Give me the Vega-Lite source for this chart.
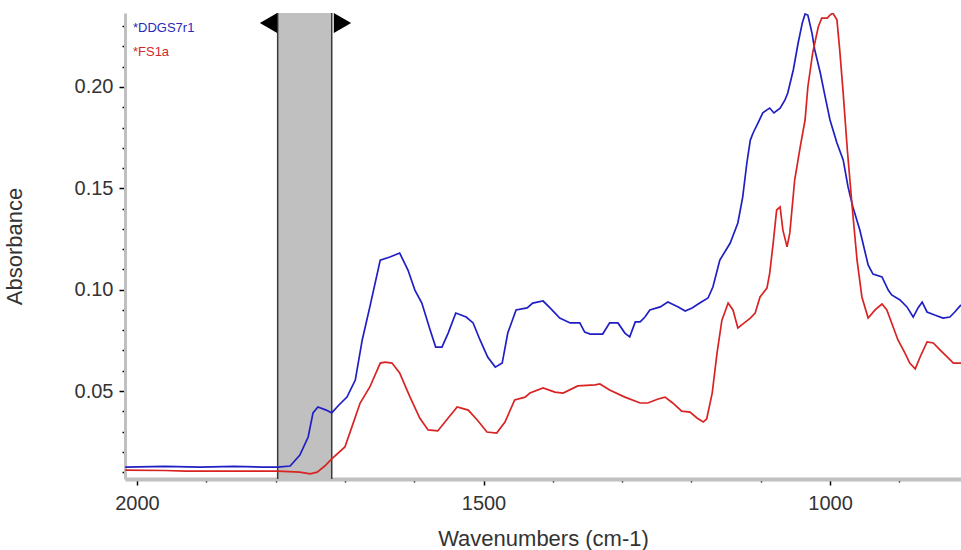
{
  "$schema": "https://vega.github.io/schema/vega-lite/v6.json",
  "width": 836,
  "height": 466,
  "autosize": {"type": "none"},
  "padding": {"left": 125, "top": 13, "right": 0, "bottom": 71},
  "background": "white",
  "config": {"view": {"stroke": null}, "font": "Liberation Sans", "axis": {"labelOverlap": false, "grid": false}},
  "datasets": {
    "region": [{"start": 1797, "end": 1719}],
    "spectra": [
      {"sample": "DDGS7r1", "wavenumber": 2017, "absorbance": 0.0125},
      {"sample": "DDGS7r1", "wavenumber": 1960, "absorbance": 0.0128},
      {"sample": "DDGS7r1", "wavenumber": 1909, "absorbance": 0.0125},
      {"sample": "DDGS7r1", "wavenumber": 1860, "absorbance": 0.0128},
      {"sample": "DDGS7r1", "wavenumber": 1820, "absorbance": 0.0125},
      {"sample": "DDGS7r1", "wavenumber": 1797, "absorbance": 0.0125},
      {"sample": "DDGS7r1", "wavenumber": 1779, "absorbance": 0.0130},
      {"sample": "DDGS7r1", "wavenumber": 1765, "absorbance": 0.0184},
      {"sample": "DDGS7r1", "wavenumber": 1753, "absorbance": 0.0273},
      {"sample": "DDGS7r1", "wavenumber": 1746, "absorbance": 0.0392},
      {"sample": "DDGS7r1", "wavenumber": 1739, "absorbance": 0.0421},
      {"sample": "DDGS7r1", "wavenumber": 1727, "absorbance": 0.0406},
      {"sample": "DDGS7r1", "wavenumber": 1719, "absorbance": 0.0392},
      {"sample": "DDGS7r1", "wavenumber": 1709, "absorbance": 0.0430},
      {"sample": "DDGS7r1", "wavenumber": 1697, "absorbance": 0.0470},
      {"sample": "DDGS7r1", "wavenumber": 1685, "absorbance": 0.0554},
      {"sample": "DDGS7r1", "wavenumber": 1675, "absorbance": 0.0752},
      {"sample": "DDGS7r1", "wavenumber": 1664, "absorbance": 0.0915},
      {"sample": "DDGS7r1", "wavenumber": 1649, "absorbance": 0.1146},
      {"sample": "DDGS7r1", "wavenumber": 1635, "absorbance": 0.1161},
      {"sample": "DDGS7r1", "wavenumber": 1621, "absorbance": 0.1181},
      {"sample": "DDGS7r1", "wavenumber": 1609, "absorbance": 0.1097},
      {"sample": "DDGS7r1", "wavenumber": 1599, "absorbance": 0.0998},
      {"sample": "DDGS7r1", "wavenumber": 1589, "absorbance": 0.0934},
      {"sample": "DDGS7r1", "wavenumber": 1577, "absorbance": 0.0801},
      {"sample": "DDGS7r1", "wavenumber": 1569, "absorbance": 0.0717},
      {"sample": "DDGS7r1", "wavenumber": 1560, "absorbance": 0.0717},
      {"sample": "DDGS7r1", "wavenumber": 1551, "absorbance": 0.0786},
      {"sample": "DDGS7r1", "wavenumber": 1540, "absorbance": 0.0885},
      {"sample": "DDGS7r1", "wavenumber": 1525, "absorbance": 0.0865},
      {"sample": "DDGS7r1", "wavenumber": 1515, "absorbance": 0.0836},
      {"sample": "DDGS7r1", "wavenumber": 1505, "absorbance": 0.0752},
      {"sample": "DDGS7r1", "wavenumber": 1494, "absorbance": 0.0668},
      {"sample": "DDGS7r1", "wavenumber": 1483, "absorbance": 0.0618},
      {"sample": "DDGS7r1", "wavenumber": 1473, "absorbance": 0.0638},
      {"sample": "DDGS7r1", "wavenumber": 1465, "absorbance": 0.0786},
      {"sample": "DDGS7r1", "wavenumber": 1453, "absorbance": 0.0900},
      {"sample": "DDGS7r1", "wavenumber": 1437, "absorbance": 0.0910},
      {"sample": "DDGS7r1", "wavenumber": 1429, "absorbance": 0.0934},
      {"sample": "DDGS7r1", "wavenumber": 1414, "absorbance": 0.0944},
      {"sample": "DDGS7r1", "wavenumber": 1404, "absorbance": 0.0910},
      {"sample": "DDGS7r1", "wavenumber": 1390, "absorbance": 0.0860},
      {"sample": "DDGS7r1", "wavenumber": 1375, "absorbance": 0.0836},
      {"sample": "DDGS7r1", "wavenumber": 1361, "absorbance": 0.0836},
      {"sample": "DDGS7r1", "wavenumber": 1354, "absorbance": 0.0791},
      {"sample": "DDGS7r1", "wavenumber": 1346, "absorbance": 0.0781},
      {"sample": "DDGS7r1", "wavenumber": 1328, "absorbance": 0.0781},
      {"sample": "DDGS7r1", "wavenumber": 1318, "absorbance": 0.0836},
      {"sample": "DDGS7r1", "wavenumber": 1306, "absorbance": 0.0836},
      {"sample": "DDGS7r1", "wavenumber": 1296, "absorbance": 0.0786},
      {"sample": "DDGS7r1", "wavenumber": 1289, "absorbance": 0.0767},
      {"sample": "DDGS7r1", "wavenumber": 1281, "absorbance": 0.0841},
      {"sample": "DDGS7r1", "wavenumber": 1274, "absorbance": 0.0841},
      {"sample": "DDGS7r1", "wavenumber": 1267, "absorbance": 0.0865},
      {"sample": "DDGS7r1", "wavenumber": 1260, "absorbance": 0.0900},
      {"sample": "DDGS7r1", "wavenumber": 1245, "absorbance": 0.0915},
      {"sample": "DDGS7r1", "wavenumber": 1234, "absorbance": 0.0939},
      {"sample": "DDGS7r1", "wavenumber": 1219, "absorbance": 0.0915},
      {"sample": "DDGS7r1", "wavenumber": 1209, "absorbance": 0.0895},
      {"sample": "DDGS7r1", "wavenumber": 1199, "absorbance": 0.0910},
      {"sample": "DDGS7r1", "wavenumber": 1188, "absorbance": 0.0934},
      {"sample": "DDGS7r1", "wavenumber": 1176, "absorbance": 0.0959},
      {"sample": "DDGS7r1", "wavenumber": 1169, "absorbance": 0.1013},
      {"sample": "DDGS7r1", "wavenumber": 1159, "absorbance": 0.1146},
      {"sample": "DDGS7r1", "wavenumber": 1144, "absorbance": 0.1230},
      {"sample": "DDGS7r1", "wavenumber": 1133, "absorbance": 0.1329},
      {"sample": "DDGS7r1", "wavenumber": 1126, "absorbance": 0.1457},
      {"sample": "DDGS7r1", "wavenumber": 1120, "absorbance": 0.1625},
      {"sample": "DDGS7r1", "wavenumber": 1115, "absorbance": 0.1738},
      {"sample": "DDGS7r1", "wavenumber": 1111, "absorbance": 0.1773},
      {"sample": "DDGS7r1", "wavenumber": 1104, "absorbance": 0.1822},
      {"sample": "DDGS7r1", "wavenumber": 1097, "absorbance": 0.1872},
      {"sample": "DDGS7r1", "wavenumber": 1091, "absorbance": 0.1887},
      {"sample": "DDGS7r1", "wavenumber": 1087, "absorbance": 0.1896},
      {"sample": "DDGS7r1", "wavenumber": 1081, "absorbance": 0.1872},
      {"sample": "DDGS7r1", "wavenumber": 1072, "absorbance": 0.1896},
      {"sample": "DDGS7r1", "wavenumber": 1065, "absorbance": 0.1936},
      {"sample": "DDGS7r1", "wavenumber": 1061, "absorbance": 0.1970},
      {"sample": "DDGS7r1", "wavenumber": 1053, "absorbance": 0.2084},
      {"sample": "DDGS7r1", "wavenumber": 1046, "absorbance": 0.2217},
      {"sample": "DDGS7r1", "wavenumber": 1040, "absorbance": 0.2316},
      {"sample": "DDGS7r1", "wavenumber": 1036, "absorbance": 0.2360},
      {"sample": "DDGS7r1", "wavenumber": 1032, "absorbance": 0.2355},
      {"sample": "DDGS7r1", "wavenumber": 1026, "absorbance": 0.2266},
      {"sample": "DDGS7r1", "wavenumber": 1022, "absorbance": 0.2183},
      {"sample": "DDGS7r1", "wavenumber": 1014, "absorbance": 0.2069},
      {"sample": "DDGS7r1", "wavenumber": 1007, "absorbance": 0.1951},
      {"sample": "DDGS7r1", "wavenumber": 1000, "absorbance": 0.1837},
      {"sample": "DDGS7r1", "wavenumber": 990, "absorbance": 0.1724},
      {"sample": "DDGS7r1", "wavenumber": 981, "absorbance": 0.1640},
      {"sample": "DDGS7r1", "wavenumber": 974, "absorbance": 0.1507},
      {"sample": "DDGS7r1", "wavenumber": 967, "absorbance": 0.1408},
      {"sample": "DDGS7r1", "wavenumber": 957, "absorbance": 0.1294},
      {"sample": "DDGS7r1", "wavenumber": 945, "absorbance": 0.1122},
      {"sample": "DDGS7r1", "wavenumber": 938, "absorbance": 0.1077},
      {"sample": "DDGS7r1", "wavenumber": 925, "absorbance": 0.1063},
      {"sample": "DDGS7r1", "wavenumber": 916, "absorbance": 0.0998},
      {"sample": "DDGS7r1", "wavenumber": 911, "absorbance": 0.0974},
      {"sample": "DDGS7r1", "wavenumber": 899, "absorbance": 0.0949},
      {"sample": "DDGS7r1", "wavenumber": 889, "absorbance": 0.0915},
      {"sample": "DDGS7r1", "wavenumber": 880, "absorbance": 0.0865},
      {"sample": "DDGS7r1", "wavenumber": 873, "absorbance": 0.0910},
      {"sample": "DDGS7r1", "wavenumber": 867, "absorbance": 0.0939},
      {"sample": "DDGS7r1", "wavenumber": 860, "absorbance": 0.0890},
      {"sample": "DDGS7r1", "wavenumber": 849, "absorbance": 0.0875},
      {"sample": "DDGS7r1", "wavenumber": 837, "absorbance": 0.0860},
      {"sample": "DDGS7r1", "wavenumber": 827, "absorbance": 0.0865},
      {"sample": "DDGS7r1", "wavenumber": 820, "absorbance": 0.0890},
      {"sample": "DDGS7r1", "wavenumber": 811, "absorbance": 0.0925},
      {"sample": "FS1a", "wavenumber": 2017, "absorbance": 0.0110},
      {"sample": "FS1a", "wavenumber": 1960, "absorbance": 0.0108},
      {"sample": "FS1a", "wavenumber": 1930, "absorbance": 0.0105},
      {"sample": "FS1a", "wavenumber": 1860, "absorbance": 0.0105},
      {"sample": "FS1a", "wavenumber": 1797, "absorbance": 0.0105},
      {"sample": "FS1a", "wavenumber": 1765, "absorbance": 0.0100},
      {"sample": "FS1a", "wavenumber": 1750, "absorbance": 0.0091},
      {"sample": "FS1a", "wavenumber": 1740, "absorbance": 0.0100},
      {"sample": "FS1a", "wavenumber": 1729, "absorbance": 0.0130},
      {"sample": "FS1a", "wavenumber": 1719, "absorbance": 0.0165},
      {"sample": "FS1a", "wavenumber": 1700, "absorbance": 0.0224},
      {"sample": "FS1a", "wavenumber": 1690, "absorbance": 0.0322},
      {"sample": "FS1a", "wavenumber": 1678, "absorbance": 0.0441},
      {"sample": "FS1a", "wavenumber": 1664, "absorbance": 0.0520},
      {"sample": "FS1a", "wavenumber": 1649, "absorbance": 0.0638},
      {"sample": "FS1a", "wavenumber": 1642, "absorbance": 0.0643},
      {"sample": "FS1a", "wavenumber": 1632, "absorbance": 0.0638},
      {"sample": "FS1a", "wavenumber": 1621, "absorbance": 0.0589},
      {"sample": "FS1a", "wavenumber": 1606, "absorbance": 0.0470},
      {"sample": "FS1a", "wavenumber": 1592, "absorbance": 0.0367},
      {"sample": "FS1a", "wavenumber": 1580, "absorbance": 0.0308},
      {"sample": "FS1a", "wavenumber": 1566, "absorbance": 0.0303},
      {"sample": "FS1a", "wavenumber": 1551, "absorbance": 0.0367},
      {"sample": "FS1a", "wavenumber": 1538, "absorbance": 0.0421},
      {"sample": "FS1a", "wavenumber": 1522, "absorbance": 0.0406},
      {"sample": "FS1a", "wavenumber": 1509, "absorbance": 0.0357},
      {"sample": "FS1a", "wavenumber": 1495, "absorbance": 0.0298},
      {"sample": "FS1a", "wavenumber": 1481, "absorbance": 0.0293},
      {"sample": "FS1a", "wavenumber": 1469, "absorbance": 0.0347},
      {"sample": "FS1a", "wavenumber": 1455, "absorbance": 0.0456},
      {"sample": "FS1a", "wavenumber": 1440, "absorbance": 0.0470},
      {"sample": "FS1a", "wavenumber": 1433, "absorbance": 0.0490},
      {"sample": "FS1a", "wavenumber": 1414, "absorbance": 0.0515},
      {"sample": "FS1a", "wavenumber": 1397, "absorbance": 0.0495},
      {"sample": "FS1a", "wavenumber": 1385, "absorbance": 0.0490},
      {"sample": "FS1a", "wavenumber": 1364, "absorbance": 0.0525},
      {"sample": "FS1a", "wavenumber": 1339, "absorbance": 0.0530},
      {"sample": "FS1a", "wavenumber": 1332, "absorbance": 0.0535},
      {"sample": "FS1a", "wavenumber": 1318, "absorbance": 0.0505},
      {"sample": "FS1a", "wavenumber": 1296, "absorbance": 0.0470},
      {"sample": "FS1a", "wavenumber": 1274, "absorbance": 0.0441},
      {"sample": "FS1a", "wavenumber": 1263, "absorbance": 0.0441},
      {"sample": "FS1a", "wavenumber": 1248, "absorbance": 0.0461},
      {"sample": "FS1a", "wavenumber": 1238, "absorbance": 0.0470},
      {"sample": "FS1a", "wavenumber": 1227, "absorbance": 0.0441},
      {"sample": "FS1a", "wavenumber": 1214, "absorbance": 0.0401},
      {"sample": "FS1a", "wavenumber": 1202, "absorbance": 0.0396},
      {"sample": "FS1a", "wavenumber": 1192, "absorbance": 0.0367},
      {"sample": "FS1a", "wavenumber": 1183, "absorbance": 0.0347},
      {"sample": "FS1a", "wavenumber": 1178, "absorbance": 0.0362},
      {"sample": "FS1a", "wavenumber": 1170, "absorbance": 0.0490},
      {"sample": "FS1a", "wavenumber": 1163, "absorbance": 0.0688},
      {"sample": "FS1a", "wavenumber": 1156, "absorbance": 0.0850},
      {"sample": "FS1a", "wavenumber": 1147, "absorbance": 0.0934},
      {"sample": "FS1a", "wavenumber": 1140, "absorbance": 0.0900},
      {"sample": "FS1a", "wavenumber": 1133, "absorbance": 0.0811},
      {"sample": "FS1a", "wavenumber": 1126, "absorbance": 0.0830},
      {"sample": "FS1a", "wavenumber": 1115, "absorbance": 0.0860},
      {"sample": "FS1a", "wavenumber": 1108, "absorbance": 0.0885},
      {"sample": "FS1a", "wavenumber": 1101, "absorbance": 0.0964},
      {"sample": "FS1a", "wavenumber": 1091, "absorbance": 0.1008},
      {"sample": "FS1a", "wavenumber": 1087, "absorbance": 0.1082},
      {"sample": "FS1a", "wavenumber": 1082, "absorbance": 0.1230},
      {"sample": "FS1a", "wavenumber": 1077, "absorbance": 0.1393},
      {"sample": "FS1a", "wavenumber": 1072, "absorbance": 0.1408},
      {"sample": "FS1a", "wavenumber": 1068, "absorbance": 0.1294},
      {"sample": "FS1a", "wavenumber": 1062, "absorbance": 0.1211},
      {"sample": "FS1a", "wavenumber": 1058, "absorbance": 0.1280},
      {"sample": "FS1a", "wavenumber": 1051, "absorbance": 0.1541},
      {"sample": "FS1a", "wavenumber": 1043, "absorbance": 0.1704},
      {"sample": "FS1a", "wavenumber": 1036, "absorbance": 0.1837},
      {"sample": "FS1a", "wavenumber": 1032, "absorbance": 0.2000},
      {"sample": "FS1a", "wavenumber": 1025, "absorbance": 0.2168},
      {"sample": "FS1a", "wavenumber": 1017, "absorbance": 0.2296},
      {"sample": "FS1a", "wavenumber": 1012, "absorbance": 0.2340},
      {"sample": "FS1a", "wavenumber": 1004, "absorbance": 0.2340},
      {"sample": "FS1a", "wavenumber": 1000, "absorbance": 0.2355},
      {"sample": "FS1a", "wavenumber": 996, "absorbance": 0.2365},
      {"sample": "FS1a", "wavenumber": 990, "absorbance": 0.2331},
      {"sample": "FS1a", "wavenumber": 986, "absorbance": 0.2183},
      {"sample": "FS1a", "wavenumber": 981, "absorbance": 0.1970},
      {"sample": "FS1a", "wavenumber": 975, "absorbance": 0.1689},
      {"sample": "FS1a", "wavenumber": 968, "absorbance": 0.1408},
      {"sample": "FS1a", "wavenumber": 961, "absorbance": 0.1146},
      {"sample": "FS1a", "wavenumber": 954, "absorbance": 0.0964},
      {"sample": "FS1a", "wavenumber": 945, "absorbance": 0.0860},
      {"sample": "FS1a", "wavenumber": 935, "absorbance": 0.0900},
      {"sample": "FS1a", "wavenumber": 925, "absorbance": 0.0929},
      {"sample": "FS1a", "wavenumber": 918, "absorbance": 0.0900},
      {"sample": "FS1a", "wavenumber": 911, "absorbance": 0.0836},
      {"sample": "FS1a", "wavenumber": 902, "absorbance": 0.0752},
      {"sample": "FS1a", "wavenumber": 892, "absorbance": 0.0688},
      {"sample": "FS1a", "wavenumber": 885, "absorbance": 0.0638},
      {"sample": "FS1a", "wavenumber": 877, "absorbance": 0.0609},
      {"sample": "FS1a", "wavenumber": 870, "absorbance": 0.0668},
      {"sample": "FS1a", "wavenumber": 860, "absorbance": 0.0742},
      {"sample": "FS1a", "wavenumber": 851, "absorbance": 0.0737},
      {"sample": "FS1a", "wavenumber": 841, "absorbance": 0.0702},
      {"sample": "FS1a", "wavenumber": 831, "absorbance": 0.0668},
      {"sample": "FS1a", "wavenumber": 822, "absorbance": 0.0638},
      {"sample": "FS1a", "wavenumber": 811, "absorbance": 0.0638}
    ]
  },
  "layer": [
    {
      "data": {"name": "region"},
      "mark": {"type": "rect", "fill": "#c0c0c0"},
      "encoding": {
        "x": {"field": "start", "type": "quantitative", "scale": {"domain": [811, 2017.3], "reverse": true, "nice": false, "zero": false}},
        "x2": {"field": "end"}
      }
    },
    {
      "data": {"name": "region"},
      "mark": {"type": "rule", "color": "#3a3a3a", "strokeWidth": 1.5},
      "encoding": {"x": {"field": "start", "type": "quantitative"}}
    },
    {
      "data": {"name": "region"},
      "mark": {"type": "rule", "color": "#3a3a3a", "strokeWidth": 1.5},
      "encoding": {"x": {"field": "end", "type": "quantitative"}}
    },
    {
      "data": {"name": "spectra"},
      "mark": {"type": "line", "strokeWidth": 1.7, "clip": true},
      "encoding": {
        "x": {
          "field": "wavenumber",
          "type": "quantitative",
          "axis": {
            "title": "Wavenumbers (cm-1)",
            "values": [900, 1000, 1100, 1200, 1300, 1400, 1500, 1600, 1700, 1800, 1900, 2000],
            "tickCount": 40,
            "format": "d",
            "labelExpr": "datum.value % 500 === 0 ? datum.label : ''",
            "grid": false,
            "domainColor": "#c0c0c0",
            "domainWidth": 4,
            "tickColor": "#000000",
            "tickWidth": 1.5,
            "tickSize": {"condition": {"test": "datum.value % 500 === 0", "value": 6}, "value": 3},
            "labelFontSize": 20,
            "labelColor": "#333333",
            "labelPadding": 8,
            "labelFlush": false,
            "labelOverlap": false,
            "titleFontSize": 22,
            "titleFontWeight": "normal",
            "titleColor": "#333333",
            "titlePadding": 15
          }
        },
        "y": {
          "field": "absorbance",
          "type": "quantitative",
          "scale": {"domain": [0.0066, 0.2365], "nice": false, "zero": false},
          "axis": {
            "title": "Absorbance",
            "values": [0.01, 0.02, 0.03, 0.04, 0.05, 0.06, 0.07, 0.08, 0.09, 0.1, 0.11, 0.12, 0.13, 0.14, 0.15, 0.16, 0.17, 0.18, 0.19, 0.2, 0.21, 0.22, 0.23],
            "tickCount": 40,
            "labelExpr": "round(datum.value * 100) % 5 === 0 ? format(datum.value, '.2f') : ''",
            "labelFontSize": {"condition": {"test": "round(datum.value * 100) % 5 !== 0", "value": 1}, "value": 20},
            "grid": false,
            "domainColor": "#c0c0c0",
            "domainWidth": 3,
            "tickColor": "#000000",
            "tickWidth": 1.5,
            "tickSize": {"condition": {"test": "round(datum.value * 100) % 5 === 0", "value": 6}, "value": 3},
            "labelColor": "#333333",
            "labelPadding": 6,
            "labelOverlap": false,
            "titleFontSize": 22,
            "titleFontWeight": "normal",
            "titleColor": "#333333",
            "titlePadding": 48
          }
        },
        "color": {
          "field": "sample",
          "type": "nominal",
          "scale": {"domain": ["DDGS7r1", "FS1a"], "range": ["#1f1fc4", "#d92323"]},
          "legend": null
        }
      }
    },
    {
      "data": {"values": [{}]},
      "mark": {"type": "point", "shape": "triangle-left", "filled": true, "color": "#000000", "size": 400, "opacity": 1},
      "encoding": {
        "x": {"datum": 1810.2},
        "y": {"datum": 0.2316}
      }
    },
    {
      "data": {"values": [{}]},
      "mark": {"type": "point", "shape": "triangle-right", "filled": true, "color": "#000000", "size": 400, "opacity": 1},
      "encoding": {
        "x": {"datum": 1703.5},
        "y": {"datum": 0.2316}
      }
    },
    {
      "data": {"values": [{}]},
      "mark": {"type": "text", "align": "left", "baseline": "middle", "fontSize": 13, "color": "#2a2ab8"},
      "encoding": {
        "x": {"datum": 2005.8},
        "y": {"datum": 0.2291},
        "text": {"value": "*DDGS7r1"}
      }
    },
    {
      "data": {"values": [{}]},
      "mark": {"type": "text", "align": "left", "baseline": "middle", "fontSize": 13, "color": "#d02a2a"},
      "encoding": {
        "x": {"datum": 2005.8},
        "y": {"datum": 0.2173},
        "text": {"value": "*FS1a"}
      }
    }
  ]
}
